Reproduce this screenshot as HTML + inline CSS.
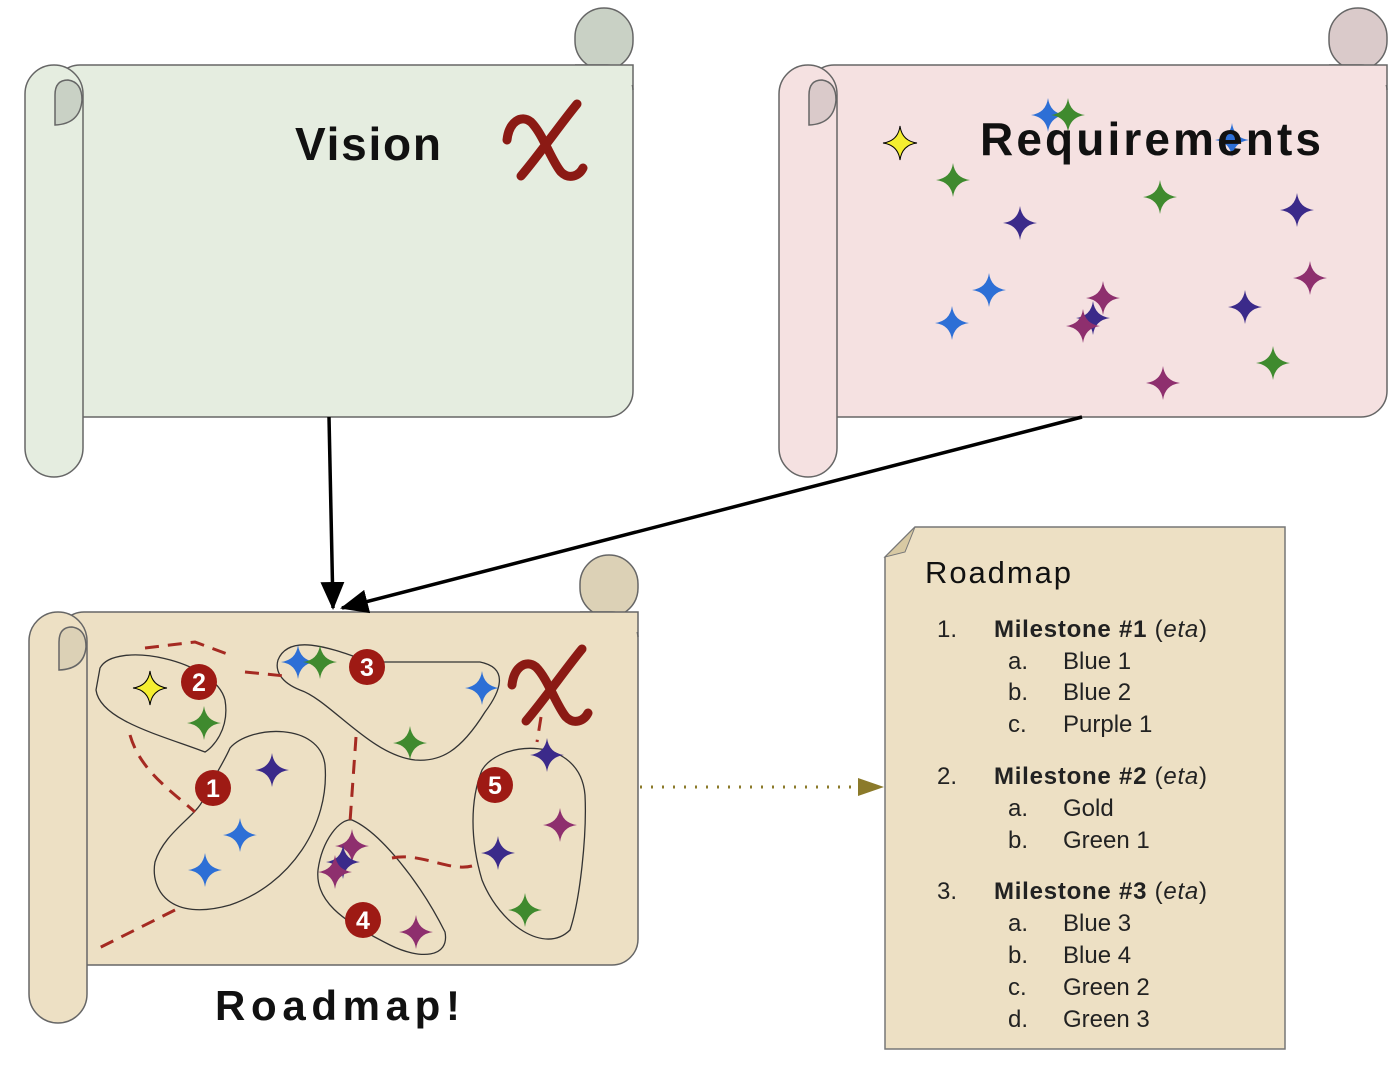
<!DOCTYPE html>
<html><head><meta charset="utf-8"><style>
html,body{margin:0;padding:0;background:#fff;}
svg{display:block;}
text{font-family:"Liberation Sans",sans-serif;}
</style></head><body>
<svg width="1398" height="1070" viewBox="0 0 1398 1070" xmlns="http://www.w3.org/2000/svg">
<defs>
<path id="s" d="M0,-17 Q2,-2 17,0 Q2,2 0,17 Q-2,2 -17,0 Q-2,-2 0,-17Z"/>
<marker id="ah" markerWidth="28" markerHeight="28" refX="26" refY="14" orient="auto" markerUnits="userSpaceOnUse" viewBox="0 0 28 28"><path d="M0,2 L28,14 L0,26Z" fill="#000"/></marker>
<g id="chi" fill="none" stroke="#8b1a14" stroke-width="9" stroke-linecap="round">
<path d="M0,40 C2,22 14,14 24,22 C36,34 44,60 54,72 C62,80 72,76 76,68"/>
<path d="M70,4 C55,22 32,55 14,76"/>
</g>
</defs>

<!-- Vision scroll -->
<g stroke="#666" stroke-width="1.5">
<rect x="575" y="8" width="58" height="62" rx="29" fill="#c9d1c5"/>
<rect x="54" y="65" width="579" height="352" rx="26" fill="#e5ede0"/>
<rect x="575" y="65" width="58" height="20" fill="#e5ede0" stroke="none"/>
<path d="M575,65 H633 V90" fill="none"/>
<rect x="25" y="65" width="58" height="412" rx="29" fill="#e5ede0"/>
<path d="M55,125 L55,95 Q55,80 68,80 Q82,82 82,100 Q80,124 55,125Z" fill="#c9d1c5"/>
</g>
<text x="295" y="160" font-size="46" font-weight="bold" fill="#111" textLength="146">Vision</text>
<use href="#chi" x="507" y="100"/>

<!-- Requirements scroll -->
<g stroke="#666" stroke-width="1.5">
<rect x="1329" y="8" width="58" height="62" rx="29" fill="#dacaca"/>
<rect x="808" y="65" width="579" height="352" rx="26" fill="#f5e1e1"/>
<rect x="1329" y="65" width="58" height="20" fill="#f5e1e1" stroke="none"/>
<path d="M1329,65 H1387 V90" fill="none"/>
<rect x="779" y="65" width="58" height="412" rx="29" fill="#f5e1e1"/>
<path d="M809,125 L809,95 Q809,80 822,80 Q836,82 836,100 Q834,124 809,125Z" fill="#dacaca"/>
</g>

<!-- Roadmap scroll -->
<g stroke="#666" stroke-width="1.5">
<rect x="580" y="555" width="58" height="62" rx="29" fill="#dcd1b6"/>
<rect x="58" y="612" width="580" height="353" rx="26" fill="#ede0c4"/>
<rect x="580" y="612" width="58" height="20" fill="#ede0c4" stroke="none"/>
<path d="M580,612 H638 V637" fill="none"/>
<rect x="29" y="612" width="58" height="411" rx="29" fill="#ede0c4"/>
<path d="M59,670 L59,642 Q59,627 72,627 Q86,629 86,647 Q84,669 59,670Z" fill="#dcd1b6"/>
</g>

<!-- arrows -->
<line x1="329" y1="417" x2="333" y2="608" stroke="#000" stroke-width="3.5" marker-end="url(#ah)"/>
<line x1="1082" y1="417" x2="342" y2="608" stroke="#000" stroke-width="3.5" marker-end="url(#ah)"/>
<line x1="640" y1="787" x2="860" y2="787" stroke="#8b7a2a" stroke-width="3" stroke-dasharray="2 9"/>
<path d="M858,778 L884,787 L858,796Z" fill="#8b7a2a"/>

<!-- Requirements stars -->
<use href="#s" x="900" y="143" fill="#f5ee30" stroke="#000" stroke-width="1"/>
<use href="#s" x="1048" y="115" fill="#2d6fd6"/>
<use href="#s" x="1068" y="115" fill="#3f8a2e"/>
<use href="#s" x="1232" y="140" fill="#2d6fd6"/>
<use href="#s" x="953" y="180" fill="#3f8a2e"/>
<use href="#s" x="1160" y="197" fill="#3f8a2e"/>
<use href="#s" x="1020" y="223" fill="#3b2a8a"/>
<use href="#s" x="1297" y="210" fill="#3b2a8a"/>
<use href="#s" x="989" y="290" fill="#2d6fd6"/>
<use href="#s" x="952" y="323" fill="#2d6fd6"/>
<use href="#s" x="1103" y="298" fill="#8e2f6e"/>
<use href="#s" x="1093" y="318" fill="#3b2a8a"/>
<use href="#s" x="1083" y="326" fill="#8e2f6e"/>
<use href="#s" x="1245" y="307" fill="#3b2a8a"/>
<use href="#s" x="1310" y="278" fill="#8e2f6e"/>
<use href="#s" x="1273" y="363" fill="#3f8a2e"/>
<use href="#s" x="1163" y="383" fill="#8e2f6e"/>
<text x="980" y="155" font-size="46" font-weight="bold" fill="#111" textLength="341">Requirements</text>

<!-- roadmap blobs -->
<g fill="none" stroke="#333" stroke-width="1.3">
<path d="M100,668 C115,640 215,660 225,700 C230,730 212,748 205,752 C160,735 100,720 96,690 Z"/>
<path d="M278,660 C290,630 340,652 370,662 L480,662 C510,668 500,692 485,712 C460,752 440,762 415,760 C370,755 330,700 300,690 C280,682 275,670 278,660 Z"/>
<path d="M230,748 C250,725 320,722 325,765 C330,825 290,885 230,905 C170,922 150,890 155,862 C165,830 200,815 205,795 C215,775 225,760 230,748 Z"/>
<path d="M352,820 C380,832 420,882 445,932 C450,958 420,960 390,945 C340,920 315,900 318,870 C322,840 340,818 352,820 Z"/>
<path d="M482,770 C500,740 580,735 585,795 C587,835 580,900 570,930 C545,955 500,925 482,880 C470,840 470,800 482,770 Z"/>
</g>
<g fill="none" stroke="#a52a22" stroke-width="3" stroke-dasharray="14 9">
<path d="M145,648 L195,642 L230,655 M245,672 L285,676"/>
<path d="M130,735 C140,770 170,790 195,812"/>
<path d="M175,910 L95,950"/>
<path d="M356,737 L350,822"/>
<path d="M392,858 C420,852 450,872 472,866"/>
<path d="M541,717 L537,742"/>
</g>
<use href="#chi" x="512" y="645"/>

<use href="#s" x="150" y="688" fill="#f5ee30" stroke="#000" stroke-width="1"/>
<use href="#s" x="204" y="723" fill="#3f8a2e"/>
<use href="#s" x="298" y="662" fill="#2d6fd6"/>
<use href="#s" x="320" y="662" fill="#3f8a2e"/>
<use href="#s" x="482" y="688" fill="#2d6fd6"/>
<use href="#s" x="410" y="743" fill="#3f8a2e"/>
<use href="#s" x="272" y="770" fill="#3b2a8a"/>
<use href="#s" x="240" y="835" fill="#2d6fd6"/>
<use href="#s" x="205" y="870" fill="#2d6fd6"/>
<use href="#s" x="352" y="846" fill="#8e2f6e"/>
<use href="#s" x="343" y="862" fill="#3b2a8a"/>
<use href="#s" x="335" y="872" fill="#8e2f6e"/>
<use href="#s" x="416" y="932" fill="#8e2f6e"/>
<use href="#s" x="547" y="755" fill="#3b2a8a"/>
<use href="#s" x="560" y="825" fill="#8e2f6e"/>
<use href="#s" x="498" y="853" fill="#3b2a8a"/>
<use href="#s" x="525" y="910" fill="#3f8a2e"/>

<g fill="#9e1a14">
<circle cx="199" cy="682" r="18"/><circle cx="367" cy="667" r="18"/><circle cx="213" cy="788" r="18"/><circle cx="495" cy="785" r="18"/><circle cx="363" cy="920" r="18"/>
</g>
<g fill="#fff" font-size="25" font-weight="bold" text-anchor="middle">
<text x="199" y="691">2</text><text x="367" y="676">3</text><text x="213" y="797">1</text><text x="495" y="794">5</text><text x="363" y="929">4</text>
</g>
<text x="215" y="1020" font-size="42" font-weight="bold" fill="#111" textLength="245">Roadmap!</text>

<!-- Document -->
<path d="M915,527 L1285,527 L1285,1049 L885,1049 L885,557 Z" fill="#ede0c4" stroke="#777" stroke-width="1.5"/>
<path d="M915,527 L885,557 L905,552 Z" fill="#d8c9a3" stroke="#777" stroke-width="1"/>
<g font-size="24" fill="#222">
<text x="925" y="583" font-size="31" fill="#111" textLength="146">Roadmap</text>
<text x="937" y="637">1.</text><text x="994" y="637" textLength="213"><tspan font-weight="bold">Milestone #1</tspan> (<tspan font-style="italic">eta</tspan>)</text>
<text x="1008" y="669">a.</text><text x="1063" y="669">Blue 1</text>
<text x="1008" y="700">b.</text><text x="1063" y="700">Blue 2</text>
<text x="1008" y="732">c.</text><text x="1063" y="732">Purple 1</text>
<text x="937" y="784">2.</text><text x="994" y="784" textLength="213"><tspan font-weight="bold">Milestone #2</tspan> (<tspan font-style="italic">eta</tspan>)</text>
<text x="1008" y="816">a.</text><text x="1063" y="816">Gold</text>
<text x="1008" y="848">b.</text><text x="1063" y="848">Green 1</text>
<text x="937" y="899">3.</text><text x="994" y="899" textLength="213"><tspan font-weight="bold">Milestone #3</tspan> (<tspan font-style="italic">eta</tspan>)</text>
<text x="1008" y="931">a.</text><text x="1063" y="931">Blue 3</text>
<text x="1008" y="963">b.</text><text x="1063" y="963">Blue 4</text>
<text x="1008" y="995">c.</text><text x="1063" y="995">Green 2</text>
<text x="1008" y="1027">d.</text><text x="1063" y="1027">Green 3</text>
</g>
</svg>
</body></html>
